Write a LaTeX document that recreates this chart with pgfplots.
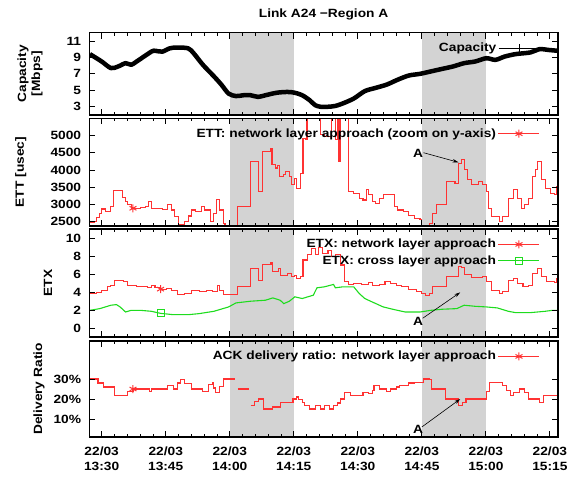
\documentclass[border=0pt]{standalone}
\usepackage{fontspec}
\setmainfont{Liberation Sans}[FakeStretch=1.15]
\usepackage{pgfplots}
\pgfplotsset{compat=1.18}
\usetikzlibrary{arrows.meta}
\definecolor{myred}{RGB}{255,50,50}
\definecolor{mygreen}{RGB}{30,220,30}
\definecolor{bandgray}{RGB}{211,211,211}
\newcommand{\fs}{\fontsize{12}{14}\selectfont\bfseries}
\pgfplotsset{
  panel/.style={
    scale only axis, width=468.7bp,
    xmin=27.1, xmax=136.9,
    xtick={30,45,60,75,90,105,120,135},
    minor x tick num=4,
    xticklabels={},
    tick align=inside, tick pos=both,
    major tick length=6bp, minor tick length=3bp,
    axis line style={line width=1.1bp},
    every tick/.style={black, line width=0.8bp},
    /pgf/number format/assume math mode=true,
    /pgf/number format/1000 sep={},
    scaled ticks=false,
    tick label style={font=\fs},
    yticklabel style={xshift=-4bp},
    label style={font=\fs},
    legend style={draw=none, fill=none, font=\fs, at={(axis description cs:0.962,1)}, anchor=north east, yshift=-8bp, row sep=2bp, inner sep=0pt},
    legend cell align=right,
    legend plot pos=right,
    legend image code/.code={\draw[##1, only marks] plot coordinates {(20.5bp,0bp)}; \draw[##1, mark=none] (0bp,0bp) -- (20.5bp,0bp); \draw[##1, mark=none] (20.5bp,0bp) -- (41bp,0bp);},
    axis on top,
  },
  redline/.style={color=myred, line width=1.1bp, mark=none},
  redmark/.style={color=myred, only marks, mark=asterisk, mark size=4bp, line width=1bp},
}
\begin{document}
\fs
\begin{tikzpicture}
\useasboundingbox (0,0) rectangle (578bp,-479bp);

% ---------------- Panel 1: Capacity
\begin{axis}[panel, at={(89.3bp,-32.7bp)}, anchor=north west, height=82.3bp,
  ymin=2, ymax=12, ytick={3,5,7,9,11},
  ylabel={Capacity\\{[Mbps]}}, ylabel style={align=center, at={(axis description cs:-0.1265,0.5)}, anchor=center}]
\fill[bandgray] (axis cs:60,2) rectangle (axis cs:75,12);
\fill[bandgray] (axis cs:105,2) rectangle (axis cs:120,12);
\addlegendimage{black, line width=0.7bp, mark=+, mark size=4bp}
\addlegendentry{Capacity}
\addplot[black, line width=4.5bp, smooth, line join=round, forget plot] coordinates {
(27.24,9.4) (30.00,8.5) (32.16,7.7) (33.88,7.9) (35.60,8.3) (36.90,8.1) (38.19,8.5)
(41.64,9.7) (42.50,9.8) (44.22,9.7) (45.95,10.1) (47.67,10.2) (50.26,10.1) (51.55,9.5)
(53.71,8.1) (56.29,6.7) (58.02,5.7) (59.74,4.6) (61.47,4.3) (63.19,4.4) (64.91,4.4)
(66.64,4.2) (68.36,4.4) (70.95,4.7) (73.53,4.8) (75.26,4.7) (76.98,4.4) (78.71,3.8)
(80.00,3.2) (81.29,3.0) (83.02,3.0) (84.74,3.1) (86.47,3.4) (89.05,4.0) (91.64,4.9)
(94.22,5.3) (96.81,5.7) (99.40,6.3) (101.98,6.8) (104.57,7.0) (107.16,7.3) (109.74,7.6)
(112.33,7.9) (114.91,8.3) (117.50,8.5) (120.09,8.9) (122.24,8.7) (124.40,9.1) (126.98,9.4)
(130.43,9.6) (132.59,10.0) (134.74,9.9) (136.90,9.8)};
\end{axis}

% ---------------- Panel 2: ETT
\begin{axis}[panel, at={(89.3bp,-118.3bp)}, anchor=north west, height=107.7bp,
  ymin=2375, ymax=5505, ytick={2500,3000,3500,4000,4500,5000},
  ylabel={ETT [usec]}, ylabel style={at={(axis description cs:-0.146,0.5)}, anchor=center}]
\fill[bandgray] (axis cs:60,2375) rectangle (axis cs:75,5505);
\fill[bandgray] (axis cs:105,2375) rectangle (axis cs:120,5505);
\addlegendimage{myred, line width=1bp, mark=asterisk, mark size=4bp}
\addlegendentry{ETT: network layer approach (zoom on y-axis)}
\addplot[redline, const plot, forget plot] coordinates {
(27.24,2480) (28.28,2500) (28.88,2625) (29.57,2740) (30.00,2870) (30.86,2790) (32.16,2940)
(32.84,3400) (34.91,3210) (35.60,3080) (36.03,2990) (36.90,2890) (37.33,2890) (39.05,2920)
(40.34,2940) (41.03,3080) (41.64,2890) (44.22,2860) (45.52,2990) (46.38,2840) (46.98,2645)
(48.10,2420) (49.40,2500) (50.26,2665) (51.12,2840) (51.98,2790) (53.28,2940) (54.14,2840)
(55.43,2500) (56.29,2740) (56.98,3150) (57.59,2840) (58.45,2450) (58.88,2400) (61.90,2940)
(64.91,4250) (66.64,3375) (67.67,4540) (69.48,4640) (69.91,4150) (70.78,4060) (71.21,4125)
(71.64,3810) (72.67,3860) (73.10,3960) (73.97,3810) (74.40,3570) (75.26,3760) (75.69,3470)
(76.55,3910) (77.16,4930) (77.67,4885) (78.10,5800) (81.29,5030) (82.16,4980) (83.88,5800)
(84.74,4885) (85.17,5800) (85.60,4250) (86.03,5800) (87.76,3375) (89.05,3330) (90.34,3180)
(91.21,3130) (92.07,3425) (92.50,3280) (93.36,3080) (94.22,3030) (95.09,3180) (95.95,3280)
(98.53,2940) (99.40,2840) (100.69,2790) (101.98,2690) (103.28,2600) (104.57,2570) (105.00,2400)
(105.43,2300) (106.72,2450) (107.59,2740) (108.45,3000) (110.78,3670) (112.76,3620) (113.62,4200)
(114.22,4320) (114.91,4010) (115.78,3720) (116.64,3570) (118.36,3670) (119.22,3570) (120.09,3375)
(120.52,2890) (121.38,2645) (123.10,2500) (123.97,2645) (125.26,3180) (126.55,3425) (127.41,3180)
(128.28,2890) (129.14,2990) (130.00,3180) (130.86,3810) (131.72,4010) (132.16,4250) (133.02,3720)
(133.88,3470) (135.17,3330) (136.03,3280) (136.47,3520) (136.90,3450)};
\addplot[redmark, forget plot] coordinates {(37.33,2890)};
\node[font=\fs] at (axis cs:104.1,4494) {A};
\draw[-{Stealth[length=6bp,width=3.5bp]}, line width=0.6bp] (axis cs:105.4,4505) -- (axis cs:113.6,4225);
\end{axis}

% ---------------- Panel 3: ETX
\begin{axis}[panel, at={(89.3bp,-229bp)}, anchor=north west, height=108bp,
  ymin=-1, ymax=11.1, ytick={0,2,4,6,8,10},
  ylabel={ETX}, ylabel style={at={(axis description cs:-0.088,0.5)}, anchor=center}]
\fill[bandgray] (axis cs:60,-1) rectangle (axis cs:75,11.1);
\fill[bandgray] (axis cs:105,-1) rectangle (axis cs:120,11.1);
\addlegendimage{myred, line width=1bp, mark=asterisk, mark size=4bp}
\addlegendentry{ETX: network layer approach}
\addlegendimage{mygreen, line width=1bp, mark=square, mark size=3.5bp}
\addlegendentry{ETX: cross layer approach}
\addplot[redline, const plot, forget plot] coordinates {
(27.24,3.87) (28.71,3.95) (30.00,4.25) (31.29,4.62) (32.16,4.74) (33.02,5.38) (35.17,5.26)
(36.03,4.74) (38.19,4.62) (40.78,4.59) (41.64,4.81) (42.50,4.51) (43.79,4.36) (45.09,4.44)
(46.38,4.25) (47.67,3.76) (49.40,3.87) (51.12,4.25) (52.84,4.06) (54.57,4.25) (55.86,4.06)
(57.16,4.81) (57.59,4.25) (58.45,3.76) (61.90,4.62) (64.91,6.69) (66.64,5.38) (67.67,7.14)
(69.66,7.37) (70.09,6.32) (71.38,6.69) (71.81,5.94) (73.53,6.13) (74.40,5.75) (75.26,5.94)
(75.69,5.56) (76.55,5.75) (77.16,7.63) (78.28,8.20) (79.14,8.87) (80.00,8.27) (80.86,9.02)
(81.72,8.38) (83.02,8.65) (83.88,8.00) (84.74,8.27) (86.03,7.07) (86.90,5.19) (87.76,4.89)
(89.05,5.00) (90.78,4.89) (92.50,5.11) (93.36,4.74) (95.09,4.89) (96.38,5.19) (97.67,5.00)
(98.97,4.81) (100.26,4.62) (101.98,4.36) (103.71,4.14) (105.00,3.87) (105.86,3.68) (106.72,3.87)
(107.59,4.62) (110.78,5.75) (113.62,6.88) (114.22,6.77) (115.09,6.02) (116.64,5.64) (119.22,5.75)
(120.09,5.19) (121.38,4.25) (123.10,3.87) (123.97,4.06) (125.26,5.38) (126.55,5.56) (127.41,5.00)
(128.71,4.62) (130.00,4.81) (130.86,6.13) (132.16,6.69) (133.02,5.75) (134.31,5.26) (136.03,5.11)
(136.47,5.56) (136.90,5.38)};
\addplot[redmark, forget plot] coordinates {(43.79,4.36)};
\addplot[mygreen, line width=1.1bp, mark=none, forget plot] coordinates {
(27.24,1.99) (29.57,2.18) (32.16,2.56) (33.45,2.63) (34.31,2.37) (35.60,1.80) (36.90,1.99)
(39.05,1.99) (41.64,1.88) (43.79,1.65) (46.81,1.50) (50.26,1.50) (52.84,1.62) (56.29,1.88)
(59.74,2.37) (61.47,2.82) (64.91,3.01) (68.36,3.12) (70.09,3.38) (71.81,3.12) (72.67,2.74)
(73.97,3.01) (75.26,3.50) (76.98,3.31) (78.28,3.50) (79.57,3.68) (80.43,4.51) (82.16,4.62)
(84.31,4.89) (84.74,4.51) (86.47,4.62) (89.05,4.62) (90.34,3.87) (91.64,3.31) (93.36,2.93)
(95.95,2.37) (98.53,2.07) (101.12,1.80) (104.57,1.80) (107.16,1.99) (109.74,2.11) (113.19,2.18)
(114.91,2.56) (117.50,2.44) (120.09,2.37) (122.67,2.26) (125.26,1.88) (126.98,1.73) (130.43,1.73)
(133.88,1.88) (135.60,1.99) (136.90,1.99)};
\addplot[mygreen, only marks, mark=square, mark size=3.5bp, line width=1bp, forget plot] coordinates {(43.79,1.65)};
\node[font=\fs] at (axis cs:104.1,0.79) {A};
\draw[-{Stealth[length=6bp,width=3.5bp]}, line width=0.6bp] (axis cs:105.2,1.1) -- (axis cs:114,4.0);
\end{axis}

% ---------------- Panel 4: ACK delivery ratio
\begin{axis}[panel, at={(89.3bp,-341bp)}, anchor=north west, height=96bp,
  ymin=1, ymax=49, ytick={10,20,30},
  yticklabel={\pgfmathprintnumber{\tick}\%},
  xticklabels={{22/03\\13:30},{22/03\\13:45},{22/03\\14:00},{22/03\\14:15},{22/03\\14:30},{22/03\\14:45},{22/03\\15:00},{22/03\\15:15}},
  xticklabel style={align=center, yshift=-6bp, font=\fontsize{12}{15}\selectfont\bfseries},
  ylabel={Delivery Ratio}, ylabel style={at={(axis description cs:-0.107,0.5)}, anchor=center}]
\fill[bandgray] (axis cs:60,1) rectangle (axis cs:75,49);
\fill[bandgray] (axis cs:105,1) rectangle (axis cs:120,49);
\addlegendimage{myred, line width=1bp, mark=asterisk, mark size=4bp}
\addlegendentry{ACK delivery ratio: network layer approach}
\addplot[redline, const plot, forget plot] coordinates {
(27.24,30) (28.28,30) (29.14,28) (30.43,26) (32.16,26) (33.02,21.7) (35.17,21.7) (36.03,23.8)
(37.33,25) (40.78,25) (41.21,23.8) (41.64,25) (44.22,25) (45.52,26.7) (46.81,25) (47.67,28)
(48.53,29.7) (49.40,27.7) (51.12,25) (53.71,23.8) (55.00,27.2) (55.86,28) (56.29,25.5)
(56.72,23.3) (57.59,26.3) (58.45,30) (61.29,30)};
\addplot[redline, forget plot] coordinates {(61.90,25) (64.48,25)};
\addplot[redline, const plot, forget plot] coordinates {
(64.91,16.7) (65.78,18.8) (66.64,20) (67.93,15) (70.09,16) (71.81,18.3) (74.83,20) (75.69,21)
(76.12,19.8) (76.98,18.3) (77.41,16.7) (78.71,15) (80.00,16.7) (81.29,15) (82.16,16.7) (83.45,15)
(84.31,16.7) (85.17,18) (86.03,20) (86.90,23.3) (88.19,21.7) (91.21,23.3) (92.50,22.7) (93.36,24.3)
(93.79,26.7) (95.09,25) (96.81,23.8) (97.67,25) (98.97,26) (99.83,26.7) (101.98,28) (103.28,28.3)
(105.43,30) (106.72,29.7) (107.33,25) (110.60,20) (113.62,16.7) (114.48,18.3) (115.34,20)
(120.09,23.8) (120.95,28.3) (123.97,26.7) (124.83,24.3) (125.69,21.7) (126.55,23.3) (127.84,25)
(129.14,23.3) (130.00,20) (132.59,18.3) (133.45,21.7) (136.47,21.7) (136.90,20.5)};
\addplot[redmark, forget plot] coordinates {(37.33,25)};
\node[font=\fs] at (axis cs:104.1,5) {A};
\draw[-{Stealth[length=6bp,width=3.5bp]}, line width=0.6bp] (axis cs:105,6) -- (axis cs:114,20);
\end{axis}

\node[font=\fs] at (323.6bp,-14bp) {Link A24 −Region A};
\end{tikzpicture}
\end{document}
